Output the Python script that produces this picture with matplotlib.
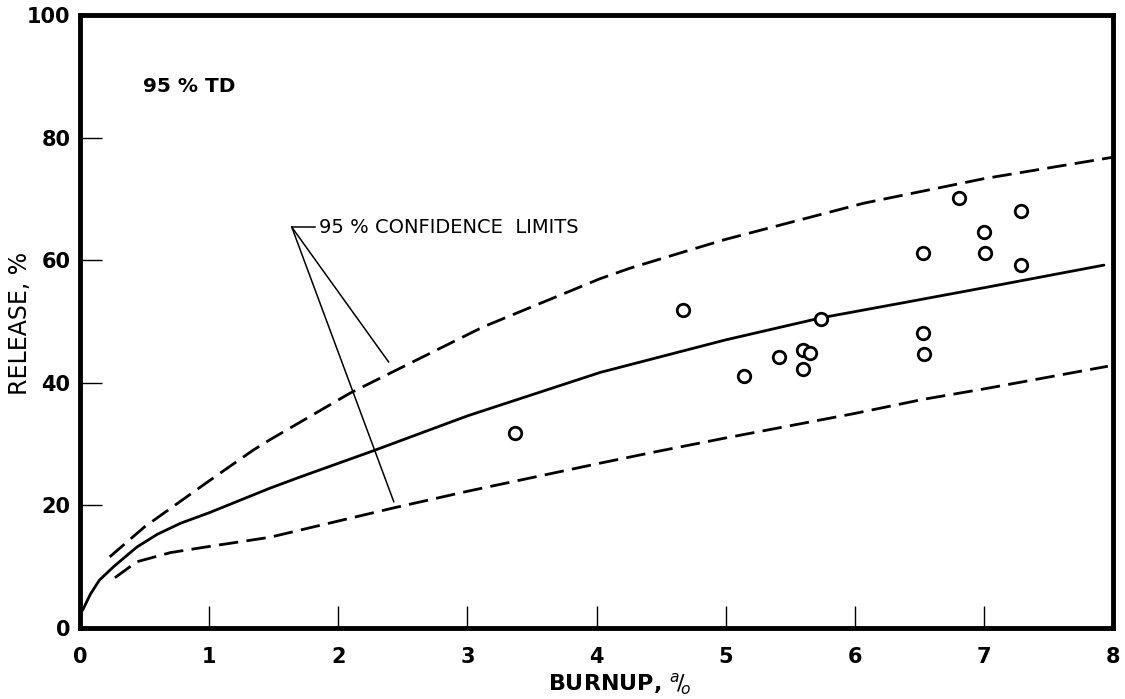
import matplotlib.pyplot as plt

# fitted mean release curve
mean_x = [0.02, 0.08, 0.15, 0.26, 0.44, 0.6, 0.78, 1.0, 1.47, 1.7, 2.27, 3.0, 4.03, 5.0, 5.74, 6.36, 7.0, 7.93]
mean_y = [2.9, 5.5, 7.8, 10.0, 13.2, 15.3, 17.1, 18.8, 22.8, 24.6, 28.9, 34.6, 41.7, 47.0, 50.6, 53.0, 55.5, 59.2]

# 95 % confidence limits
upper_x = [0.23, 0.5, 1.0, 1.34, 1.47, 2.09, 3.12, 4.03, 4.26, 4.73, 5.0, 6.07, 7.0, 8.0]
upper_y = [11.6, 16.5, 24.0, 29.0, 30.7, 38.3, 49.1, 57.0, 58.7, 61.7, 63.4, 69.3, 73.3, 76.8]
lower_x = [0.27, 0.44, 0.7, 1.0, 1.47, 2.43, 3.0, 4.03, 4.47, 5.0, 6.0, 6.53, 7.0, 7.96]
lower_y = [8.2, 10.8, 12.3, 13.3, 14.8, 19.6, 22.3, 26.9, 28.8, 31.0, 35.0, 37.3, 39.0, 42.7]

# measured release vs burnup
burnup = [3.37, 4.67, 5.14, 5.41, 5.60, 5.65, 5.60, 5.74, 6.53, 6.53, 6.54, 6.81, 7.00, 7.01, 7.29, 7.29]
release = [31.8, 51.9, 41.1, 44.2, 45.3, 44.9, 42.2, 50.4, 61.2, 48.1, 44.7, 70.1, 64.6, 61.2, 68.0, 59.2]

xticks = [0, 1, 2, 3, 4, 5, 6, 7, 8]
yticks = [0, 20, 40, 60, 80, 100]

fig = plt.figure(figsize=(11.25, 6.99), dpi=100)
ax = fig.add_axes([80 / 1125, 1 - 628 / 699, (1113 - 80) / 1125, (628 - 15) / 699])

ax.plot(mean_x, mean_y, color='black', lw=2.0, solid_capstyle='round')
ax.plot(upper_x, upper_y, color='black', lw=2.0, dashes=(7, 3))
ax.plot(lower_x, lower_y, color='black', lw=2.0, dashes=(7, 3))
ax.plot(burnup, release, 'o', ms=9, mfc='white', mec='black', mew=2.0, ls='none')

# leader lines for the confidence label
ax.plot([1.64, 2.39], [65.4, 43.4], color='black', lw=1.1)
ax.plot([1.64, 2.43], [65.4, 20.6], color='black', lw=1.1)
ax.plot([1.64, 1.82], [65.4, 65.4], color='black', lw=1.1)
ax.text(1.85, 65.4, '95 % CONFIDENCE  LIMITS', fontsize=14, va='center', ha='left')
ax.text(0.49, 88.4, '95 % TD', fontsize=14.5, fontweight='bold', va='center', ha='left')

ax.set_xlim(0, 8)
ax.set_ylim(0, 100)
ax.set_xticks(xticks)
ax.set_yticks(yticks)
ax.tick_params(direction='in', length=16, width=1.0, labelsize=15)
ax.tick_params(axis='x', pad=14)
ax.tick_params(axis='y', pad=7)
for lbl in ax.get_xticklabels() + ax.get_yticklabels():
    lbl.set_fontweight('bold')
for side in ['top', 'bottom', 'left', 'right']:
    ax.spines[side].set_linewidth(3.5)

fig.text(619 / 1125, 1 - 684 / 699, r'BURNUP, $^{a}\!/\!_{o}$', fontsize=16,
         fontweight='bold', ha='center', va='center')
fig.text(20 / 1125, 1 - 323 / 699, 'RELEASE, %', fontsize=17, rotation=90,
         ha='center', va='center')

fig.savefig('out.png', dpi=100)
